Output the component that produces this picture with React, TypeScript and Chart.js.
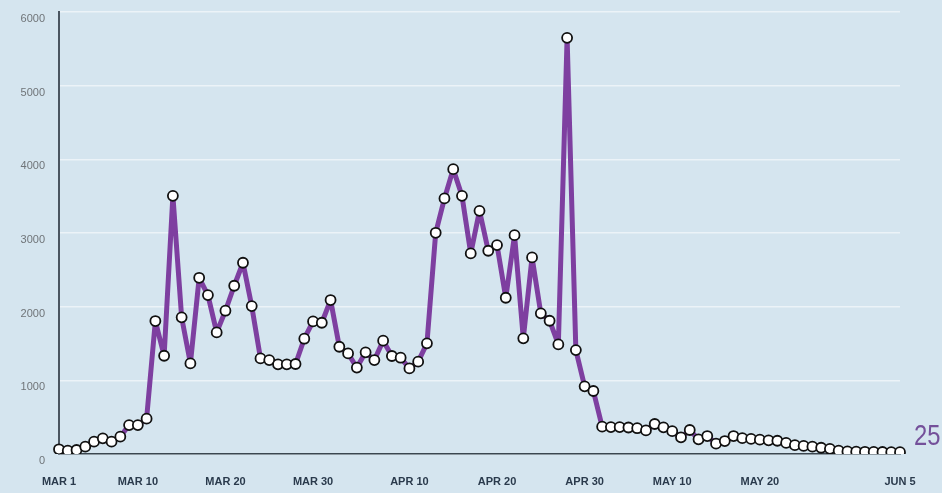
import React, { useEffect, useRef } from "react";
import { Chart, registerables } from "chart.js";

Chart.register(...registerables);

const months = ["MAR", "APR", "MAY", "JUN"];
const monthDays = [31, 30, 31, 5];
const categories: string[] = [];
months.forEach((m, mi) => {
  for (let d = 1; d <= monthDays[mi]; d++) categories.push(`${m} ${d}`);
});

const tickLabels = ["MAR 1", "MAR 10", "MAR 20", "MAR 30", "APR 10", "APR 20", "APR 30", "MAY 10", "MAY 20", "JUN 5"];

const dailyCases = [
  64, 45, 54, 100, 167, 213, 167, 235, 393, 393,
  480, 1805, 1334, 3505, 1855, 1230, 2392, 2157, 1651, 1945,
  2284, 2596, 2008, 1298, 1275, 1217, 1217, 1222, 1565, 1800,
  1782, 2090, 1456, 1365, 1173, 1380, 1275, 1538, 1330, 1307,
  1162, 1253, 1502, 3003, 3469, 3867, 3505, 2723, 3301, 2759,
  2836, 2121, 2971, 1570, 2669, 1909, 1809, 1488, 5649, 1411,
  918, 855, 371, 365, 365, 360, 350, 320, 407, 362,
  310, 226, 326, 199, 244, 140, 176, 244, 215, 205,
  195, 185, 180, 150, 120, 110, 100, 85, 70, 45,
  35, 32, 30, 28, 27, 26, 25,
];

const yTicks = [0, 1000, 2000, 3000, 4000, 5000, 6000];

const LINE = "#7e3fa0";
const BG = "#d5e5ef";

const lastLabelPlugin = {
  id: "lastLabel",
  afterDatasetsDraw(chart: any) {
    const meta = chart.getDatasetMeta(0);
    const pt = meta.data[meta.data.length - 1];
    if (!pt) return;
    const ctx = chart.ctx;
    ctx.save();
    ctx.fillStyle = "#74509a";
    ctx.font = '29px "Liberation Sans", Arial, sans-serif';
    ctx.textBaseline = "alphabetic";
    ctx.translate(pt.x + 14, pt.y - 7);
    ctx.scale(0.82, 1);
    ctx.textAlign = "left";
    ctx.fillText(String(dailyCases[dailyCases.length - 1]), 0, 0);
    ctx.restore();
  },
};

export default function App() {
  const ref = useRef<HTMLCanvasElement>(null);
  useEffect(() => {
    document.body.style.margin = "0";
    document.body.style.background = BG;
    const chart = new Chart(ref.current!, {
      type: "line",
      data: {
        labels: categories,
        datasets: [
          {
            data: dailyCases,
            borderColor: LINE,
            borderWidth: 5,
            borderJoinStyle: "round",
            borderCapStyle: "round",
            pointRadius: 5,
            pointBackgroundColor: "#ffffff",
            pointBorderColor: "#111111",
            pointBorderWidth: 1.8,
            tension: 0,
            fill: false,
          },
        ],
      },
      options: {
        animation: false,
        responsive: false,
        maintainAspectRatio: false,
        layout: { padding: { top: 12, right: 42, left: 0, bottom: 0 } },
        plugins: { legend: { display: false }, tooltip: { enabled: false } },
        scales: {
          x: {
            type: "category",
            offset: false,
            grid: { display: false, drawTicks: false },
            border: { display: true, color: "#3a4650", width: 1.5 },
            afterFit: (s: any) => {
              s.height = 39;
              s.paddingLeft = 0;
              s.paddingRight = 0;
            },
            ticks: {
              autoSkip: false,
              maxRotation: 0,
              padding: 21,
              color: "#2a3a4c",
              font: { family: '"Liberation Sans", Arial, sans-serif', size: 11, weight: "bold" },
              callback: (_v: any, i: number) => (tickLabels.includes(categories[i]) ? categories[i] : ""),
            },
          },
          y: {
            min: 0,
            max: 6000,
            afterFit: (s: any) => {
              s.width = 59;
              s.paddingTop = 0;
              s.paddingBottom = 0;
            },
            afterBuildTicks: (s: any) => {
              s.ticks = yTicks.map((v) => ({ value: v }));
            },
            grid: { color: "rgba(255,255,255,0.55)", lineWidth: 1.5, drawTicks: false },
            border: { display: true, color: "#4a5560", width: 2 },
            ticks: {
              padding: 14,
              labelOffset: 7,
              color: "#6f7478",
              font: { family: '"Liberation Sans", Arial, sans-serif', size: 11 },
              callback: (v: any) => String(v),
            },
          },
        },
      },
      plugins: [lastLabelPlugin],
    });
    return () => chart.destroy();
  }, []);
  return (
    <div style={{ width: 942, height: 493, background: BG }}>
      <canvas ref={ref} width={942} height={493} style={{ display: "block" }} />
    </div>
  );
}
